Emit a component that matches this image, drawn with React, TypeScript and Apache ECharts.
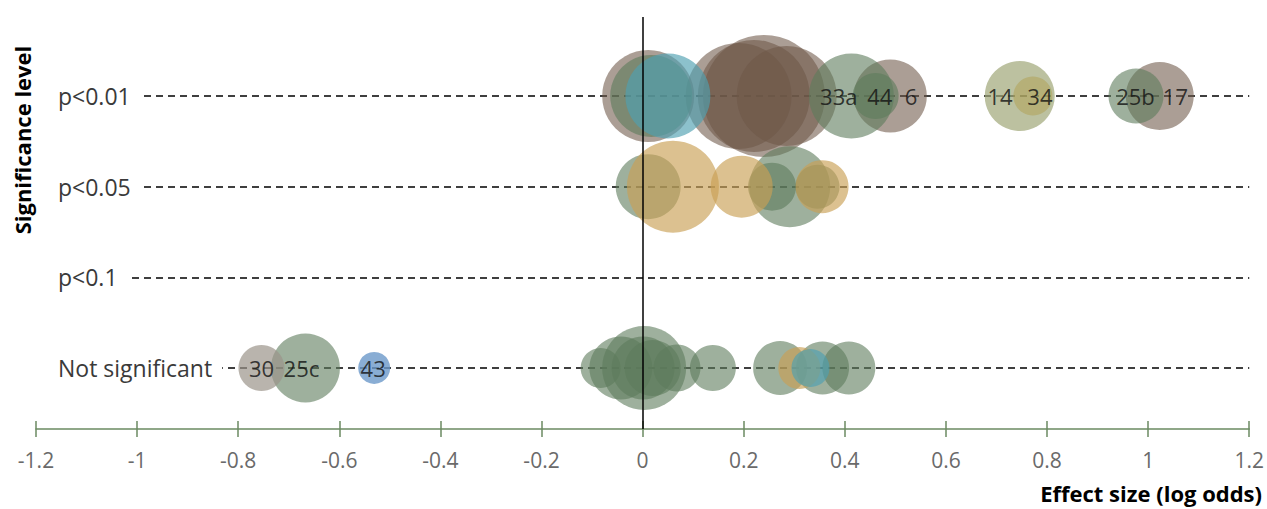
import React, { useEffect, useRef } from "react";
import * as echarts from "echarts";

// Significance rows (y value -> label)
const levels = ["Not significant", "p<0.1", "p<0.05", "p<0.01"];
const xTicks = { min: -1.2, max: 1.2, step: 0.2 };

// [effect size, row index, bubble diameter]
const brownPoints = [
  [0.011, 3, 92], [0.19, 3, 106], [0.22, 3, 112], [0.24, 3, 122], [0.285, 3, 100],
  [0.49, 3, 73], [1.023, 3, 68],
];
const greenPoints = [
  [0.017, 3, 82], [0.413, 3, 85], [0.461, 3, 46], [0.976, 3, 55],
  [0.011, 2, 65], [0.291, 2, 81], [0.256, 2, 48], [0.346, 2, 44],
  [-0.667, 0, 69], [-0.083, 0, 40], [-0.043, 0, 63], [0.003, 0, 84], [0.001, 0, 63],
  [0.02, 0, 56], [0.068, 0, 47], [0.139, 0, 46], [0.272, 0, 54], [0.356, 0, 53], [0.408, 0, 53],
];
const tealPoints = [[0.05, 3, 85], [0.332, 0, 38]];
const goldPoints = [[0.06, 2, 92], [0.196, 2, 62], [0.355, 2, 53], [0.31, 0, 42]];
const olivePoints = [[0.746, 3, 70]];
const khakiPoints = [[0.772, 3, 39]];
const greyPoints = [[-0.754, 0, 46]];
const bluePoints = [[-0.531, 0, 32]];

// study labels: [x, row, text]
const studyLabels = [
  [0.388, 3, "33a"], [0.469, 3, "44"], [0.531, 3, "6"], [0.707, 3, "14"], [0.786, 3, "34"],
  [0.975, 3, "25b"], [1.054, 3, "17"],
  [-0.754, 0, "30"], [-0.675, 0, "25c"], [-0.533, 0, "43"],
];

const FONT = "'Open Sans', 'Noto Sans', sans-serif";

function bubble(name: string, data: number[][], color: string, opacity: number) {
  return {
    name,
    type: "scatter",
    z: 2,
    data,
    symbolSize: (v: number[]) => v[2],
    itemStyle: { color, opacity },
    emphasis: { disabled: true },
    silent: true,
  };
}

export default function App() {
  const ref = useRef<HTMLDivElement>(null);
  useEffect(() => {
    const chart = echarts.init(ref.current!, undefined, { renderer: "svg" });
    const axisGreen = "#6b8a62";
    chart.setOption({
      animation: false,
      grid: { left: 36, right: 15, top: 17, bottom: 80 },
      xAxis: [
        {
          type: "value",
          min: xTicks.min,
          max: xTicks.max,
          interval: xTicks.step,
          position: "bottom",
          offset: 0,
          axisLine: { show: true, onZero: false, lineStyle: { color: axisGreen, width: 1.5 } },
          axisTick: { show: true, length: 8, lineStyle: { color: axisGreen, width: 1.5 } },
          axisLabel: {
            margin: 20,
            color: "#6a6a6a",
            fontSize: 21,
            fontFamily: FONT,
            formatter: (v: number) => String(+v.toFixed(1)),
          },
          splitLine: { show: false },
        },
        {
          type: "value",
          min: xTicks.min,
          max: xTicks.max,
          interval: xTicks.step,
          position: "bottom",
          offset: 0,
          axisLine: { show: false, onZero: false },
          axisTick: { show: true, inside: true, length: 8, lineStyle: { color: axisGreen, width: 1.5 } },
          axisLabel: { show: false },
          splitLine: { show: false },
        },
      ],
      yAxis: {
        type: "value",
        min: -0.673,
        max: 3.871,
        axisLine: { show: false },
        axisTick: { show: false, customValues: [0, 1, 2, 3] },
        axisLabel: {
          inside: true,
          margin: 0,
          customValues: [0, 1, 2, 3],
          formatter: (v: number) => levels[Math.round(v)] ?? "",
          color: "#3a3a3a",
          fontSize: 23,
          fontFamily: FONT,
          backgroundColor: "#ffffff",
          padding: [2, 10, 2, 22],
        },
        splitLine: {
          show: true,
          lineStyle: { color: "#000000", type: [7, 5], width: 1.5 },
        },
      },
      graphic: [
        {
          type: "text",
          x: 22,
          y: 140,
          rotation: Math.PI / 2,
          style: {
            text: "Significance level",
            font: `bold 22px ${FONT}`,
            fill: "#000",
            textAlign: "center",
            textVerticalAlign: "middle",
          },
        },
        {
          type: "text",
          right: 5,
          top: 482,
          style: {
            text: "Effect size (log odds)",
            font: `bold 22px ${FONT}`,
            fill: "#000",
          },
        },
      ],
      series: [
        {
          name: "zero",
          type: "scatter",
          data: [],
          z: 1,
          markLine: {
            silent: true,
            symbol: ["none", "none"],
            label: { show: false },
            lineStyle: { color: "#000", type: "solid", width: 1.5 },
            data: [{ xAxis: 0 }],
          },
        },
        bubble("brown", brownPoints, "#6e5849", 0.58),
        bubble("green", greenPoints, "#5e7b5c", 0.6),
        bubble("gold", goldPoints, "#c9a055", 0.65),
        bubble("teal", tealPoints, "#4f9fb0", 0.65),
        bubble("olive", olivePoints, "#a0a678", 0.7),
        bubble("khaki", khakiPoints, "#b0a050", 0.5),
        bubble("grey", greyPoints, "#9b948a", 0.7),
        bubble("blue", bluePoints, "#6b98c9", 0.8),
        {
          name: "labels",
          type: "scatter",
          z: 5,
          silent: true,
          symbolSize: 0,
          data: studyLabels.map((d) => ({ value: [d[0], d[1]], name: d[2] })),
          label: {
            show: true,
            position: "inside",
            formatter: (p: any) => p.name,
            color: "#111",
            fontSize: 22,
            fontFamily: FONT,
          },
        },
      ],
    });
    return () => chart.dispose();
  }, []);
  return (
    <div
      ref={ref}
      style={{ position: "fixed", left: 0, top: 0, width: 1267, height: 509, background: "#fff" }}
    />
  );
}
